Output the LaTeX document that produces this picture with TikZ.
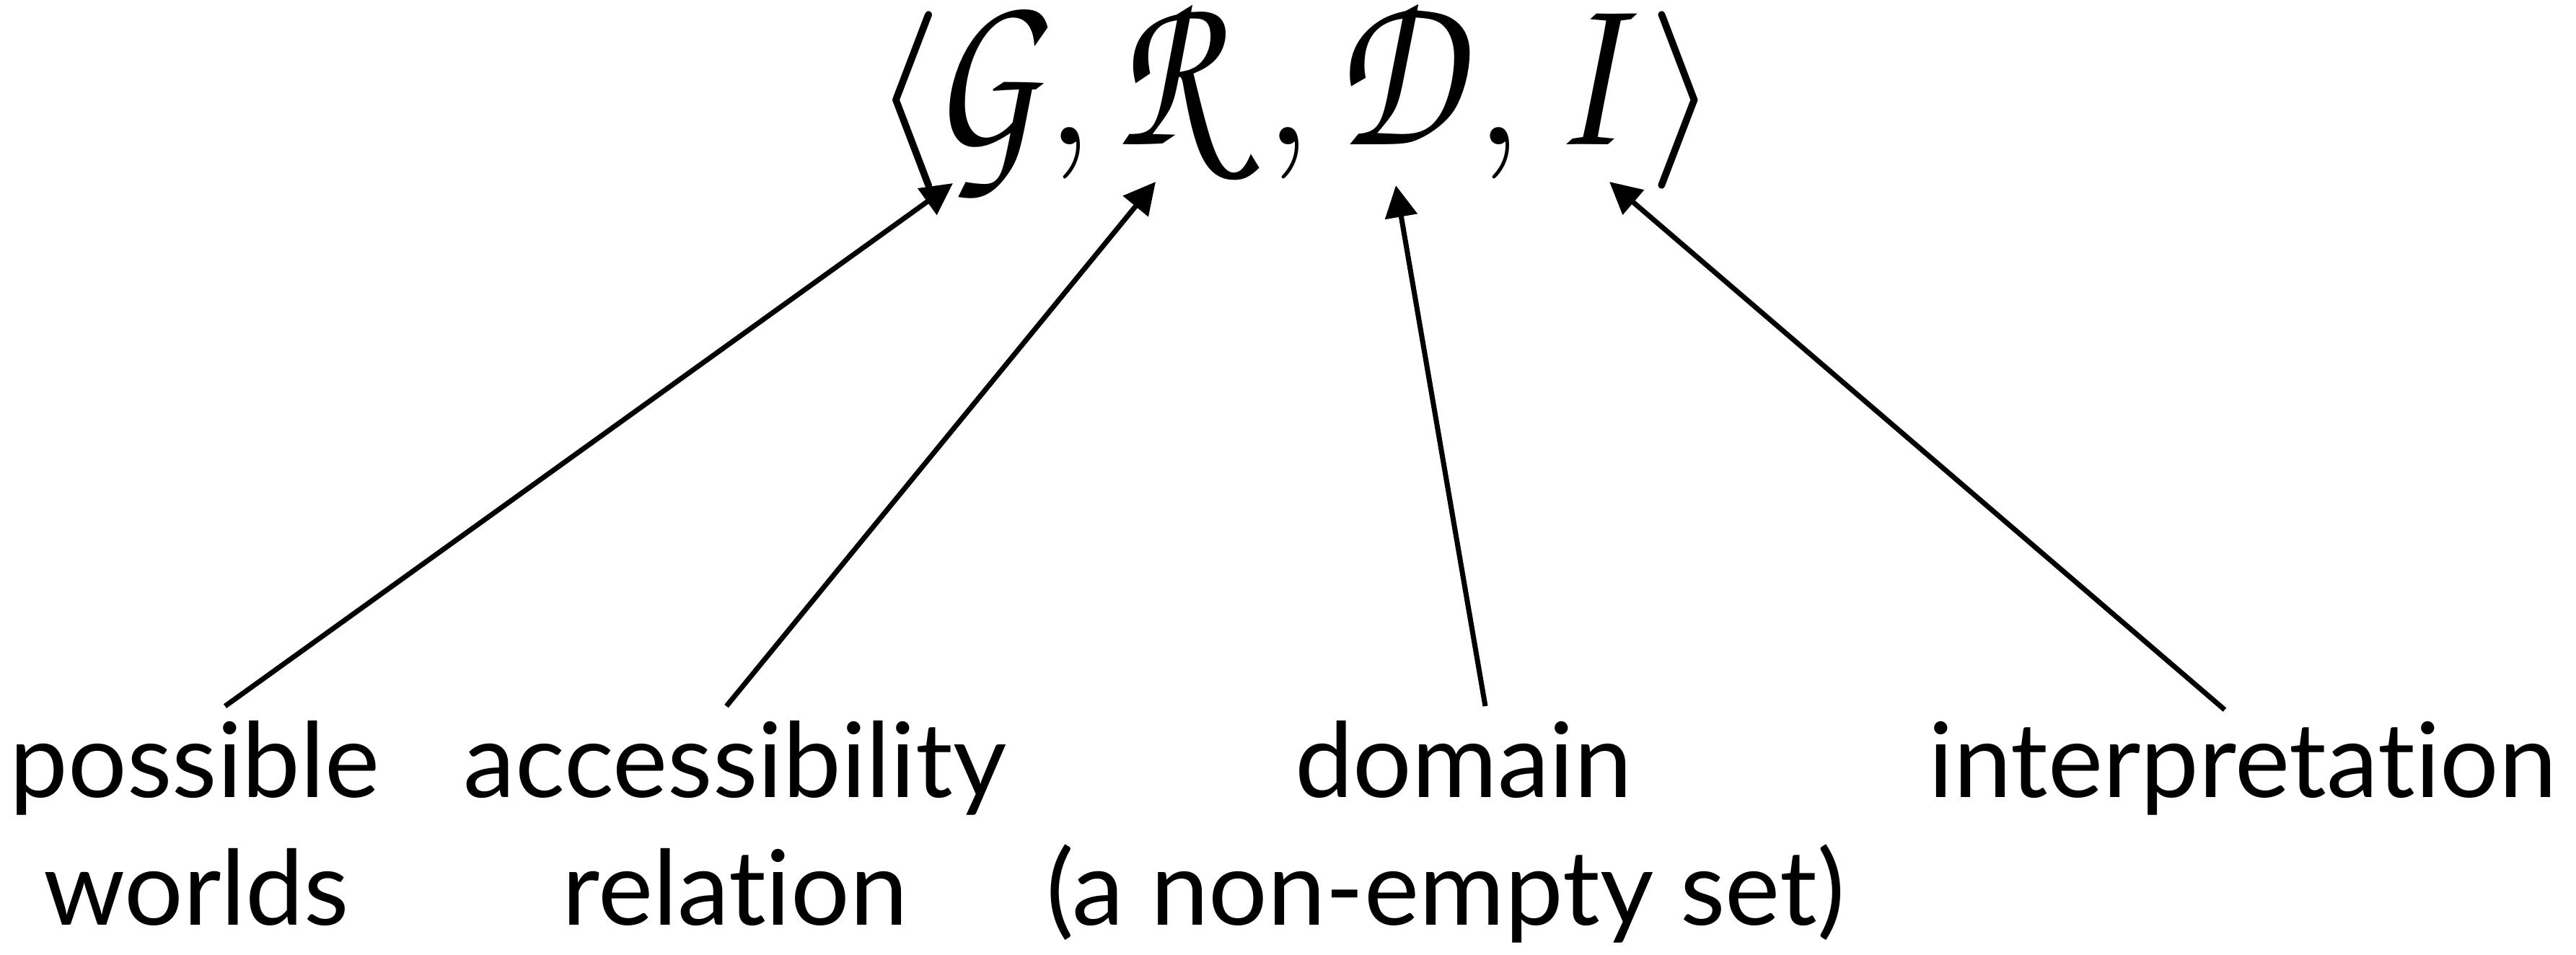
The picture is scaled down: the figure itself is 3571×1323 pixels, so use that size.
\RequirePackage{fix-cm}
\documentclass[tikz,border=0pt]{standalone}
\usepackage{fontspec}
\setmainfont{Lato}[Ligatures=NoCommon]
\usetikzlibrary{arrows.meta}

\begin{document}
\begin{tikzpicture}[x=0.01cm, y=-0.01cm,
  lbl/.style={anchor=base, inner sep=0pt, font=\fontsize{41}{48}\selectfont},
  calig/.style={anchor=base, inner sep=0pt, text height=1.68cm, text depth=0.25cm,
    font=\fontencoding{OT1}\fontfamily{pzc}\fontsize{90}{96}\selectfont},
  punct/.style={anchor=base, inner sep=0pt, text height=1.8cm, text depth=0.5cm,
    font=\fontsize{70}{84}\selectfont},
  arr/.style={line width=2pt, -{Triangle[length=12.5pt, width=12.5pt]}}]
\useasboundingbox (0,0) rectangle (3571,1323);

% the structure tuple < G, R, D, I >
\node[punct] (lang) at (1258,200) {$\langle$};
\node[calig] (G) at (1364,200) {\scalebox{0.78}[1]{G}};
\node[punct] (c1) at (1483,200) {$,$};
\node[calig] (R) at (1620,200) {\scalebox{0.76}[1]{R}};
\node[punct] (c2) at (1786,200) {$,$};
\node[calig] (D) at (1937,200) {\scalebox{0.78}[1]{D}};
\node[punct] (c3) at (2078,200) {$,$};
\node[calig] (I) at (2198,200) {\scalebox{0.78}[1]{I}};
\node[punct] (rang) at (2333,200) {$\rangle$};

% arrow heads point at the components
\coordinate (tipG) at (1321,254);
\coordinate (tipR) at (1602,252);
\coordinate (tipD) at (1935,257);
\coordinate (tipI) at (2231,252);

% labels
\node[lbl] (pw1) at (270,1105) {possible};
\node[lbl] (pw2) at (272,1282) {worlds};
\node[lbl] (ar1) at (1019,1105) {accessibility};
\node[lbl] (ar2) at (1019,1282) {relation};
\node[lbl] (dm1) at (2029,1105) {domain};
\node[lbl] (dm2) at (2004,1282) {(a non-empty set)};
\node[lbl] (in1) at (3109,1105) {interpretation};

% arrow tails just above the labels
\coordinate (srcG) at (312,979);
\coordinate (srcR) at (1007,979);
\coordinate (srcD) at (2059,979);
\coordinate (srcI) at (3084,984);

\draw[arr] (srcG) -- (tipG);
\draw[arr] (srcR) -- (tipR);
\draw[arr] (srcD) -- (tipD);
\draw[arr] (srcI) -- (tipI);
\end{tikzpicture}
\end{document}
